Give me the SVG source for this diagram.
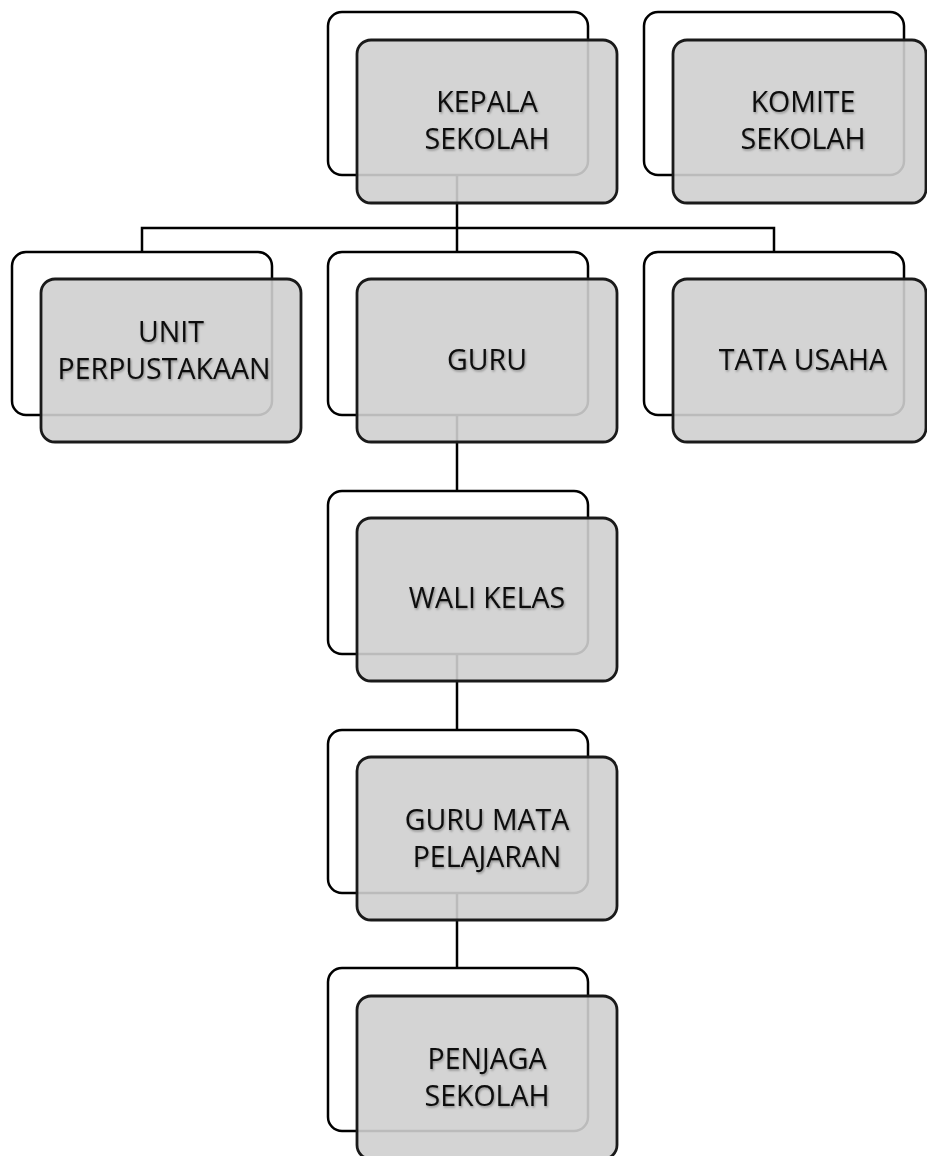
<svg xmlns="http://www.w3.org/2000/svg" width="927" height="1156" viewBox="0 0 927 1156">
<defs>
<filter id="ts" x="-10%" y="-30%" width="120%" height="160%">
<feDropShadow dx="1" dy="1.5" stdDeviation="1" flood-color="#000" flood-opacity="0.35"/>
</filter>
</defs>
<style>
.back{fill:#fff;stroke:#000;stroke-width:2.5}
.front{fill:#cfcfcf;fill-opacity:0.9;stroke:#1a1a1a;stroke-width:2.8}
.conn{fill:none;stroke:#000;stroke-width:2.5}
text{font-family:"Open Sans","Liberation Sans",sans-serif;font-size:28.5px;fill:#0a0a0a;text-anchor:middle;filter:url(#ts)}
</style>
<rect width="927" height="1156" fill="#fff"/>
<g id="connectors">
<path class="conn" d="M457 175V252"/>
<path class="conn" d="M142 252V228H774V252"/>
<path class="conn" d="M457 415V491"/>
<path class="conn" d="M457 654V730"/>
<path class="conn" d="M457 893V968"/>
</g>
<g id="kepala-sekolah">
<rect class="back" x="328" y="12" width="260" height="163" rx="14"/>
<rect class="front" x="357" y="40" width="260" height="163" rx="14"/>
<text x="487" y="112">KEPALA</text>
<text x="487" y="149">SEKOLAH</text>
</g>
<g id="komite-sekolah">
<rect class="back" x="644" y="12" width="260" height="163" rx="14"/>
<rect class="front" x="673" y="40" width="253" height="163" rx="14"/>
<text x="803" y="112">KOMITE</text>
<text x="803" y="149">SEKOLAH</text>
</g>
<g id="unit-perpustakaan">
<rect class="back" x="12" y="252" width="260" height="163" rx="14"/>
<rect class="front" x="41" y="279" width="260" height="163" rx="14"/>
<text x="171" y="342">UNIT</text>
<text x="164" y="379">PERPUSTAKAAN</text>
</g>
<g id="guru">
<rect class="back" x="328" y="252" width="260" height="163" rx="14"/>
<rect class="front" x="357" y="279" width="260" height="163" rx="14"/>
<text x="487" y="370">GURU</text>
</g>
<g id="tata-usaha">
<rect class="back" x="644" y="252" width="260" height="163" rx="14"/>
<rect class="front" x="673" y="279" width="253" height="163" rx="14"/>
<text x="803" y="370">TATA USAHA</text>
</g>
<g id="wali-kelas">
<rect class="back" x="328" y="491" width="260" height="163" rx="14"/>
<rect class="front" x="357" y="518" width="260" height="163" rx="14"/>
<text x="487" y="608">WALI KELAS</text>
</g>
<g id="guru-mata-pelajaran">
<rect class="back" x="328" y="730" width="260" height="163" rx="14"/>
<rect class="front" x="357" y="757" width="260" height="163" rx="14"/>
<text x="487" y="830">GURU MATA</text>
<text x="487" y="867">PELAJARAN</text>
</g>
<g id="penjaga-sekolah">
<rect class="back" x="328" y="968" width="260" height="163" rx="14"/>
<rect class="front" x="357" y="996" width="260" height="163" rx="14"/>
<text x="487" y="1069">PENJAGA</text>
<text x="487" y="1106">SEKOLAH</text>
</g>
</svg>
